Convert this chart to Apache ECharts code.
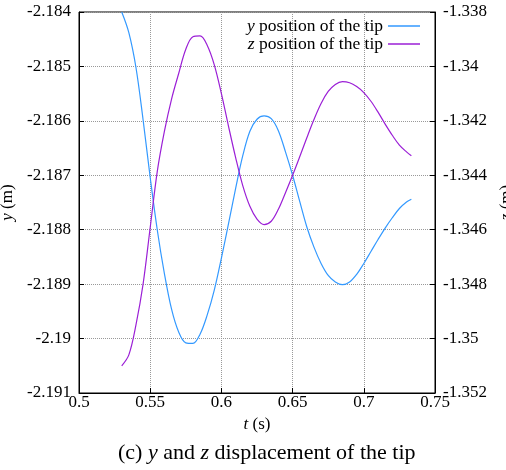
<!DOCTYPE html>
<html>
<head>
<meta charset="utf-8">
<script src="https://cdn.jsdelivr.net/npm/echarts@6/dist/echarts.min.js"></script>
<style>
html, body { margin: 0; padding: 0; background: #fff; }
#main { width: 506px; height: 470px; }
</style>
</head>
<body>
<div id="main"></div>
<script>
// time samples (s)
var t = [0.530, 0.535, 0.540, 0.545, 0.550, 0.555, 0.560, 0.565, 0.570, 0.575, 0.580, 0.585,
    0.590, 0.595, 0.600, 0.605, 0.610, 0.615, 0.620, 0.625, 0.630, 0.635, 0.640, 0.645,
    0.650, 0.655, 0.660, 0.665, 0.670, 0.675, 0.680, 0.685, 0.690, 0.695, 0.700, 0.705,
    0.710, 0.715, 0.720, 0.725, 0.730, 0.7334];
// y position of the tip (m), left axis
var yPos = [-2.18400, -2.18438, -2.18502, -2.18598, -2.18704, -2.18801, -2.18881, -2.18946, -2.18988, -2.19008, -2.19009, -2.18992,
    -2.18957, -2.18911, -2.18852, -2.18789, -2.18724, -2.18664, -2.18619, -2.18597, -2.18591, -2.18596, -2.18618, -2.18657,
    -2.18700, -2.18748, -2.18795, -2.18832, -2.18862, -2.18884, -2.18896, -2.18901, -2.18896, -2.18882, -2.18862, -2.18840,
    -2.18818, -2.18797, -2.18778, -2.18761, -2.18749, -2.18744];
// z position of the tip (m), right axis
var zPos = [-1.35100, -1.35060, -1.34950, -1.34800, -1.34592, -1.34385, -1.34238, -1.34120, -1.34026, -1.33937, -1.33891, -1.33888,
    -1.33922, -1.33994, -1.34100, -1.34220, -1.34335, -1.34438, -1.34514, -1.34561, -1.34581, -1.34569, -1.34525, -1.34464,
    -1.34400, -1.34332, -1.34262, -1.34195, -1.34136, -1.34092, -1.34066, -1.34056, -1.34060, -1.34074, -1.34096, -1.34128,
    -1.34168, -1.34212, -1.34253, -1.34289, -1.34314, -1.34328];

var serif = 'Liberation Serif';
var fmt = function (v) { return String(parseFloat(v.toFixed(4))); };
var pairs = function (xs, ys) { return xs.map(function (x, i) { return [x, ys[i]]; }); };
var ital = function (size, lh) {
    var s = { fontStyle: 'italic', fontFamily: serif, fontSize: size, color: '#000' };
    if (lh) s.lineHeight = lh;
    return { i: s };
};
var nameStyle = { fontFamily: serif, fontSize: 17, color: '#000', rich: ital(17) };
var labelStyle = { fontFamily: serif, fontSize: 17, color: '#000', formatter: fmt };

var chartDom = document.getElementById('main');
var myChart = echarts.init(chartDom, null, { renderer: 'canvas' });
var option = {
    animation: false,
    title: {
        text: '(c) {i|y} and {i|z} displacement of the tip',
        left: 113,
        bottom: 1,
        textStyle: {
            fontFamily: serif, fontSize: 22, fontWeight: 'normal', color: '#000',
            rich: ital(22)
        }
    },
    grid: {
        left: 79, right: 71, top: 12, bottom: 77,
        containLabel: false,
        outerBoundsMode: 'none',
        show: true, borderColor: '#000', borderWidth: 1
    },
    legend: {
        orient: 'vertical',
        align: 'right',
        right: 86,
        top: 17,
        padding: 0,
        itemGap: 0,
        itemWidth: 32,
        itemHeight: 1.5,
        icon: 'rect',
        textStyle: { fontFamily: serif, fontSize: 17.5, color: '#000', lineHeight: 11, rich: ital(17.5, 11) },
        formatter: function (name) {
            return '{i|' + name + '} position of the tip';
        },
        data: ['y', 'z']
    },
    xAxis: {
        type: 'value',
        min: 0.5, max: 0.75, interval: 0.05,
        name: '{i|t} (s)',
        nameLocation: 'middle',
        nameGap: 23,
        nameTextStyle: nameStyle,
        axisLine: { lineStyle: { color: '#000' } },
        axisTick: { inside: true, length: 5, lineStyle: { color: '#000' } },
        axisLabel: Object.assign({ margin: 1 }, labelStyle),
        splitLine: { lineStyle: { color: '#999', type: [1, 1] } }
    },
    yAxis: [{
        type: 'value',
        min: -2.191, max: -2.184, interval: 0.001,
        name: '{i|y} (m)',
        nameLocation: 'middle',
        nameRotate: 90,
        nameGap: 56,
        nameTextStyle: nameStyle,
        axisLine: { show: true, lineStyle: { color: '#000' } },
        axisTick: { show: true, inside: true, length: 5, lineStyle: { color: '#000' } },
        axisLabel: Object.assign({ margin: 8 }, labelStyle),
        splitLine: { lineStyle: { color: '#999', type: [1, 1] } }
    }, {
        type: 'value',
        position: 'right',
        min: -1.352, max: -1.338, interval: 0.002,
        name: '{i|z} (m)',
        nameLocation: 'middle',
        nameRotate: 90,
        nameGap: 54,
        nameTextStyle: nameStyle,
        axisLine: { show: true, lineStyle: { color: '#000' } },
        axisTick: { show: true, inside: true, length: 5, lineStyle: { color: '#000' } },
        axisLabel: Object.assign({ margin: 8 }, labelStyle),
        splitLine: { show: false }
    }],
    series: [{
        name: 'y',
        type: 'line',
        yAxisIndex: 0,
        smooth: 0.35,
        symbol: 'none',
        color: '#3399ff',
        lineStyle: { width: 1.2, color: '#3399ff' },
        data: pairs(t, yPos)
    }, {
        name: 'z',
        type: 'line',
        yAxisIndex: 1,
        smooth: 0.35,
        symbol: 'none',
        color: '#9b1fd6',
        lineStyle: { width: 1.2, color: '#9b1fd6' },
        data: pairs(t, zPos)
    }]
};
option && myChart.setOption(option);
</script>
</body>
</html>
